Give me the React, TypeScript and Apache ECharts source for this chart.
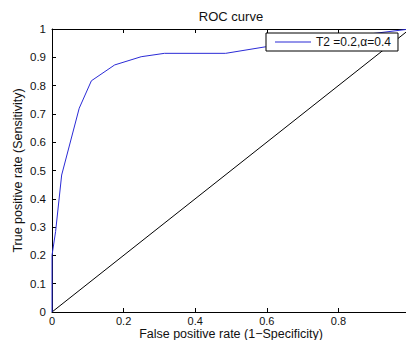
import React, { useEffect, useRef } from "react";
import * as echarts from "echarts";

const rocFpr = [0, 0, 0.01, 0.027, 0.076, 0.11, 0.175, 0.249, 0.314, 0.485, 0.596, 1];
const rocTpr = [0, 0.2, 0.284, 0.484, 0.72, 0.817, 0.873, 0.902, 0.914, 0.914, 0.937, 1];
const operatingPoint = [0.11, 0.817];
const diagonalX = [0, 1];
const diagonalY = [0, 1];
const seriesName = "T2 =0.2,\u03b1=0.4";
const xTicks = { min: 0, max: 1, interval: 0.2 };
const yTicks = { min: 0, max: 1, interval: 0.1 };

const FONT = "'Liberation Sans', Arial, Helvetica, sans-serif";
const BLUE = "#2b2bd6";

export default function App() {
  const ref = useRef<HTMLDivElement>(null);
  useEffect(() => {
    document.body.style.margin = "0";
    if (!ref.current) return;
    const chart = echarts.init(ref.current, undefined, { renderer: "svg" });
    const axisCommon = {
      axisLine: { show: true, onZero: false, lineStyle: { color: "#000", width: 1 } },
      axisTick: { show: true, inside: true, length: 4, lineStyle: { color: "#000" } },
      splitLine: { show: false },
    };
    chart.setOption({
      animation: false,
      backgroundColor: "#fff",
      textStyle: { fontFamily: FONT },
      title: {
        text: "ROC curve",
        left: "231",
        textAlign: "center",
        top: 10,
        padding: 0,
        textStyle: { fontSize: 13, fontWeight: "normal", color: "#111", fontFamily: FONT },
      },
      legend: {
        data: [{ name: seriesName, icon: "rect" }],
        left: 266,
        top: 33,
        padding: [3, 7, 3, 9],
        itemWidth: 36,
        itemHeight: 1,
        borderColor: "#000",
        borderWidth: 1,
        backgroundColor: "#fff",
        borderRadius: 0,
        textStyle: { fontSize: 12, color: "#111", fontFamily: FONT },
      },
      grid: { left: 52, right: -4, top: 29, bottom: 28, outerBoundsMode: "none" },
      xAxis: [
        {
          type: "value",
          position: "bottom",
          ...xTicks,
          ...axisCommon,
          name: "False positive rate (1\u2212Specificity)",
          nameLocation: "middle",
          nameGap: 15.5,
          nameMoveOverlap: false,
          nameTextStyle: { fontSize: 12.5, lineHeight: 12, color: "#111", fontFamily: FONT, verticalAlign: "top" },
          axisLabel: { fontSize: 11, lineHeight: 10, color: "#111", margin: 4, fontFamily: FONT, showMaxLabel: false },
        },
        {
          type: "value",
          position: "top",
          ...xTicks,
          ...axisCommon,
          axisLabel: { show: false },
        },
      ],
      yAxis: [
        {
          type: "value",
          position: "left",
          ...yTicks,
          ...axisCommon,
          name: "True positive rate (Sensitivity)",
          nameLocation: "middle",
          nameGap: 28,
          nameMoveOverlap: false,
          nameTextStyle: { fontSize: 12.5, color: "#111", fontFamily: FONT },
          axisLabel: { fontSize: 11.5, color: "#111", margin: 6, fontFamily: FONT },
        },
        {
          type: "value",
          position: "right",
          ...yTicks,
          ...axisCommon,
          axisLabel: { show: false },
        },
      ],
      series: [
        {
          type: "line",
          name: "diagonal",
          data: diagonalX.map((x, i) => [x, diagonalY[i]]),
          symbol: "none",
          lineStyle: { color: "#000", width: 1 },
          silent: true,
        },
        {
          type: "line",
          name: seriesName,
          data: rocFpr.map((x, i) => [x, rocTpr[i]]),
          symbol: "none",
          color: BLUE,
          lineStyle: { color: BLUE, width: 1 },
        },
        {
          type: "scatter",
          name: "operating point",
          data: [operatingPoint],
          symbol: "emptyCircle",
          symbolSize: 7,
          itemStyle: { color: "#fff", borderColor: BLUE, borderWidth: 1 },
        },
      ],
    });
    return () => chart.dispose();
  }, []);
  return <div ref={ref} style={{ width: 406, height: 340 }} />;
}
